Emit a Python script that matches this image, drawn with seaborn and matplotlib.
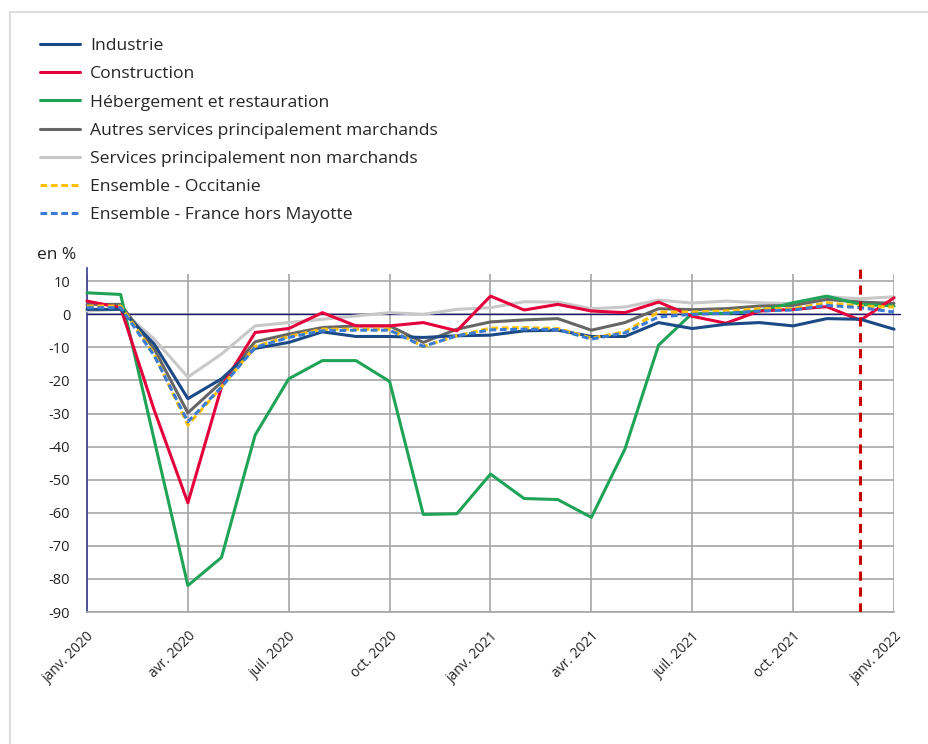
import matplotlib
matplotlib.use("Agg")
import matplotlib.pyplot as plt
from matplotlib.lines import Line2D
import seaborn as sns
import pandas as pd
import numpy as np

# ---- data ----
tick_labels = ["janv. 2020", "avr. 2020", "juil. 2020", "oct. 2020", "janv. 2021",
               "avr. 2021", "juil. 2021", "oct. 2021", "janv. 2022"]
months = list(range(25))  # janv. 2020 .. janv. 2022

industrie = [1.5, 1.5, -9, -25.5, -19.5, -10.3, -8.5, -5.3, -6.7, -6.7, -7, -6.5, -6.3,
             -5, -4.8, -6.7, -6.7, -2.5, -4.3, -3, -2.5, -3.5, -1.3, -1.5, -4.5]
construction = [4, 2, -29, -57, -22, -5.5, -4.3, 0.5, -3.5, -3.5, -2.5, -5, 5.5,
                1.3, 3, 1, 0.5, 3.7, -0.6, -2.7, 1, 1.5, 2.3, -1.8, 5]
hebergement = [6.5, 6, -38, -82, -73.5, -36.5, -19.5, -14, -14, -20.3, -60.5, -60.3, -48.3,
               -55.7, -56, -61.4, -40.7, -9.3, 0.3, 0.3, 1, 3.5, 5.5, 3, 2.5]
autres = [3, 3, -10.5, -29.8, -20.5, -8.3, -6, -4, -3.5, -3.5, -8.5, -4.5, -2.3,
          -1.7, -1.3, -4.8, -2.5, 1.7, 1.4, 1.7, 2.5, 2.7, 4.5, 3.7, 3.3]
non_marchands = [1, 1.5, -7.5, -19, -12, -3.5, -2.5, -1.5, -0.5, 0.5, 0, 1.5, 2,
                 3.8, 3.7, 1.7, 2.2, 4.3, 3.4, 4, 3.5, 3.2, 5.3, 4.7, 5.3]
occitanie = [2.5, 2.5, -12, -33.5, -22, -9.7, -6.7, -4.5, -4.5, -4.5, -9.7, -6.5, -4.2,
             -4, -4.3, -7.2, -5.3, 0.7, 0.7, 1, 1.7, 1.7, 3.5, 2.5, 2.2]
france = [2, 2, -12.5, -32.5, -22, -10, -7, -5, -4.8, -4.8, -9.7, -6.5, -4.7,
          -4.5, -4.6, -7.5, -5.6, -0.8, 0, 0.3, 1, 1.3, 2.7, 2, 0.7]

series_names = ["Industrie", "Construction", "Hébergement et restauration",
                "Autres services principalement marchands",
                "Services principalement non marchands",
                "Ensemble - Occitanie", "Ensemble - France hors Mayotte"]
series_values = [industrie, construction, hebergement, autres, non_marchands, occitanie, france]
colors = ["#1b4a86", "#e4003b", "#1fa356", "#666666", "#c8c8c8", "#ffc000", "#3a7bd5"]
dashed = [False, False, False, False, False, True, True]
draw_order = [4, 3, 2, 1, 0, 5, 6]

df = pd.DataFrame({"mois": months * len(series_names),
                   "serie": np.repeat(series_names, len(months)),
                   "valeur": np.concatenate(series_values)})

sns.set_theme(style="white")
plt.rcParams["font.family"] = ["Open Sans", "DejaVu Sans"]

fig = plt.figure(figsize=(9.29, 7.44), dpi=100)
ax = fig.add_axes([87 / 929, 1 - 612 / 744, (894 - 87) / 929, (612 - 268) / 744])

ymin, ymax = -90, 14
ax.set_ylim(ymin, ymax)
ax.set_xlim(0, 24)

# grid
yticks = list(range(-90, 11, 10))
for yv in yticks:
    ax.axhline(yv, color="#a6a6a6", lw=1.2, zorder=0)
xt = list(range(0, 25, 3))
ax.vlines(xt, ymin, 12.3, color="#a6a6a6", lw=1.2, zorder=0)
ax.axhline(0, color="#1a1a6e", lw=1.0, zorder=1, xmax=1.008, clip_on=False)

for i in draw_order:
    name = series_names[i]
    sub = df[df["serie"] == name]
    sns.lineplot(data=sub, x="mois", y="valeur", ax=ax, color=colors[i], lw=2.2,
                 linestyle=(0, (2.2, 1.2)) if dashed[i] else "-", zorder=3 + draw_order.index(i),
                 legend=False, clip_on=False)

# red dashed marker at déc. 2021
ax.axvline(23, color="#cc0000", lw=2.2, linestyle=(0, (3, 2.2)), zorder=10)

ax.set_xticks(xt)
ax.set_xticklabels(tick_labels, rotation=45, ha="right", rotation_mode="anchor",
                   fontsize=10, color="#222222")
ax.set_yticks(yticks)
ax.set_yticklabels([str(v) for v in yticks], fontsize=10.5, color="#222222")
ax.tick_params(axis="both", which="major", length=7, width=1.2, color="#a6a6a6", pad=5)
ax.tick_params(axis="x", pad=5)
ax.set_xlabel("")
ax.set_ylabel("")
for s in ["top", "right"]:
    ax.spines[s].set_visible(False)
ax.spines["bottom"].set_color("#a6a6a6")
ax.spines["bottom"].set_linewidth(1.2)
ax.spines["left"].set_color("#3b3b8f")
ax.spines["left"].set_linewidth(1.2)

fig.text(37 / 929, 1 - 255 / 744, "en %", fontsize=12.5, va="center", ha="left", color="#222222")

# legend
handles = [Line2D([0], [0], color=colors[i], lw=2.2,
                  linestyle=(0, (2.2, 1.2)) if dashed[i] else "-") for i in range(7)]
fig.legend(handles, series_names, loc="upper left", bbox_to_anchor=(40 / 929, 1 - 38 / 744),
           frameon=False, fontsize=12.6, handlelength=2.3, handletextpad=0.57,
           labelspacing=0.68, borderaxespad=0, borderpad=0)

# light frame
fig.add_artist(Line2D([10 / 929, 10 / 929], [0, 1 - 12 / 744], color="#dddddd", lw=1.5))
fig.add_artist(Line2D([10 / 929, 1], [1 - 12 / 744, 1 - 12 / 744], color="#dddddd", lw=1.5))

fig.savefig("out.png", dpi=100)
